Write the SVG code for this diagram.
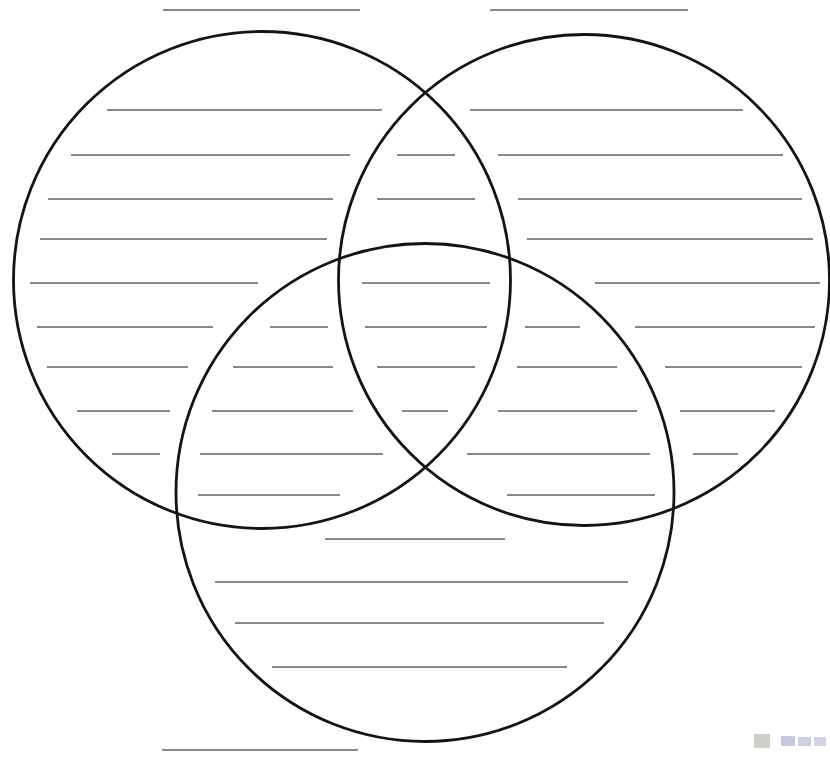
<svg xmlns="http://www.w3.org/2000/svg" width="830" height="762" viewBox="0 0 830 762">
<style>
.c{fill:none;stroke:#141414;stroke-width:2.8}
.l{stroke:#888888;stroke-width:2.2;fill:none}
</style>
<rect width="830" height="762" fill="#ffffff"/>
<g id="writing-lines" class="l">
<path d="M163 10H360M490 10H688M162 750H358"/>
<path d="M107 110H382M470 110H743"/>
<path d="M71 155H350M397 155H455M498 155H783"/>
<path d="M48 199H333M377 199H475M518 199H802"/>
<path d="M40 239H327M527 239H813"/>
<path d="M30 283H258M362 283H490M595 283H820"/>
<path d="M37 327H213M270 327H328M365 327H487M525 327H580M635 327H815"/>
<path d="M47 367H188M233 367H333M377 367H475M517 367H617M665 367H802"/>
<path d="M77 411H170M212 411H353M402 411H448M498 411H637M680 411H775"/>
<path d="M112 454H160M200 454H383M467 454H650M693 454H738"/>
<path d="M198 495H340M507 495H655"/>
<path d="M325 539H505"/>
<path d="M215 582H628"/>
<path d="M235 623H604"/>
<path d="M272 667H567"/>
</g>
<g id="circle-a"><circle class="c" cx="262" cy="280" r="248.5"/></g>
<g id="circle-b"><circle class="c" cx="584" cy="280" r="245.5"/></g>
<g id="circle-c"><circle class="c" cx="425" cy="492.5" r="249"/></g>
<g id="logo" opacity="0.4">
<rect x="754" y="734" width="16" height="14" fill="#8a8a7a"/>
<rect x="781" y="736" width="14" height="10" fill="#7777aa"/>
<rect x="798" y="737" width="13" height="9" fill="#8888bb"/>
<rect x="814" y="737" width="12" height="9" fill="#9090bb"/>
</g>
</svg>
